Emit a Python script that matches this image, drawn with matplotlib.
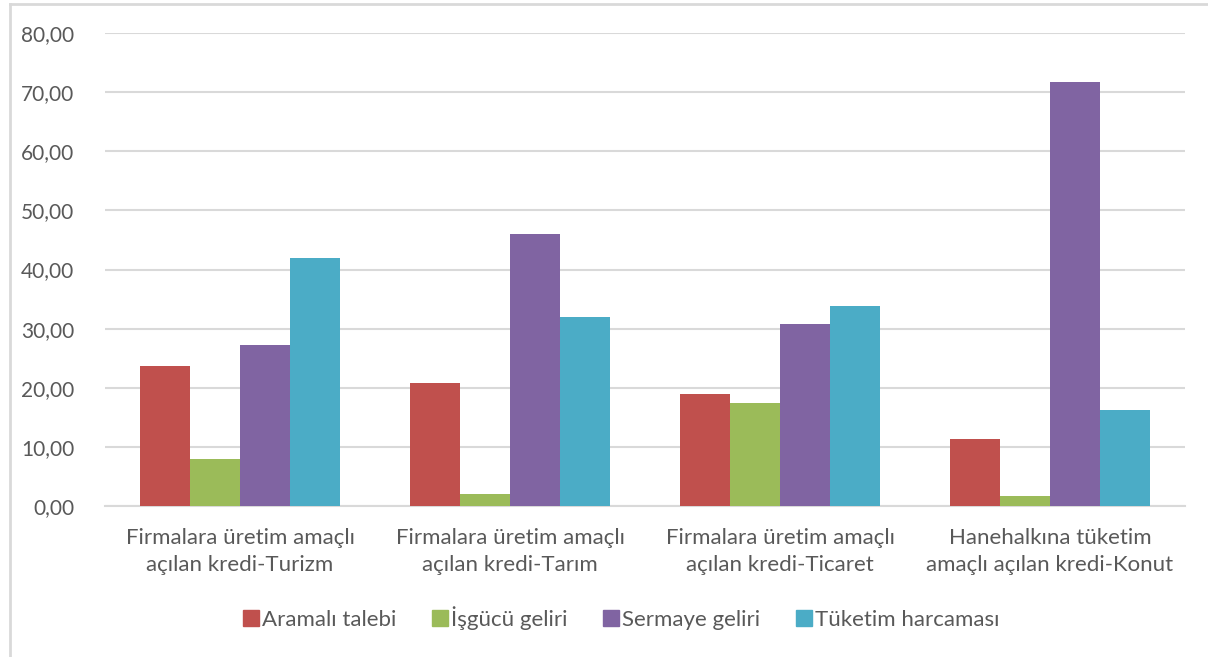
import numpy as np
import matplotlib.pyplot as plt
from matplotlib.lines import Line2D

categories = [
    "Firmalara üretim amaçlı\naçılan kredi-Turizm",
    "Firmalara üretim amaçlı\naçılan kredi-Tarım",
    "Firmalara üretim amaçlı\naçılan kredi-Ticaret",
    "Hanehalkına tüketim\namaçlı açılan kredi-Konut",
]
series_names = ["Aramalı talebi", "İşgücü geliri", "Sermaye geliri", "Tüketim harcaması"]
aramali = [23.7, 20.8, 18.9, 11.3]
isgucu = [8.0, 2.0, 17.4, 1.7]
sermaye = [27.2, 46.0, 30.8, 71.7]
tuketim = [41.9, 32.0, 33.8, 16.2]
colors = ["#c0504d", "#9bbb59", "#8064a2", "#4bacc6"]

plt.rcParams["font.family"] = ["Lato", "DejaVu Sans"]
text_color = "#595959"
fs = 16

fig = plt.figure(figsize=(12.08, 6.57), dpi=100)
ax = fig.add_axes([105 / 1208, 1 - 506 / 657, 1080 / 1208, 473 / 657])

x = np.arange(len(categories))
width = 0.185
all_series = [aramali, isgucu, sermaye, tuketim]
for i, (vals, col) in enumerate(zip(all_series, colors)):
    ax.bar(x + (i - 1.5) * width, vals, width, color=col, zorder=3, label=series_names[i])

ax.set_xlim(-0.5, 3.5)
ax.set_ylim(0, 80)
ticks = np.arange(0, 81, 10)
ax.set_yticks(ticks)
ax.set_yticklabels([f"{v:.2f}".replace(".", ",") for v in ticks])
ax.yaxis.grid(True, color="#d9d9d9", linewidth=1.5, zorder=0)
ax.set_xticks(x)
ax.set_xticklabels(categories, linespacing=1.45)
ax.tick_params(axis="both", length=0, colors=text_color)
ax.tick_params(axis="y", labelsize=15, pad=22)
ax.tick_params(axis="x", labelsize=fs, pad=16)
for s in ["top", "right", "left"]:
    ax.spines[s].set_visible(False)
ax.spines["bottom"].set_color("#d9d9d9")
ax.spines["bottom"].set_linewidth(1.5)

handles = [Line2D([], [], marker="s", linestyle="none", markersize=12,
                  markerfacecolor=c, markeredgecolor=c) for c in colors]
fig.legend(handles, series_names, loc="center", bbox_to_anchor=(0.513, 0.059),
           ncol=4, frameon=False, fontsize=fs, handletextpad=0.0, handlelength=1.0,
           columnspacing=1.45, labelcolor=text_color)

# outer chart frame
fig.add_artist(Line2D([9.5 / 1208, 9.5 / 1208], [0, 1 - 3.5 / 657], transform=fig.transFigure,
                      color="#d9d9d9", linewidth=2))
fig.add_artist(Line2D([9.5 / 1208, 1], [1 - 3.5 / 657, 1 - 3.5 / 657], transform=fig.transFigure,
                      color="#d9d9d9", linewidth=2))

fig.savefig("out.png", dpi=100)
